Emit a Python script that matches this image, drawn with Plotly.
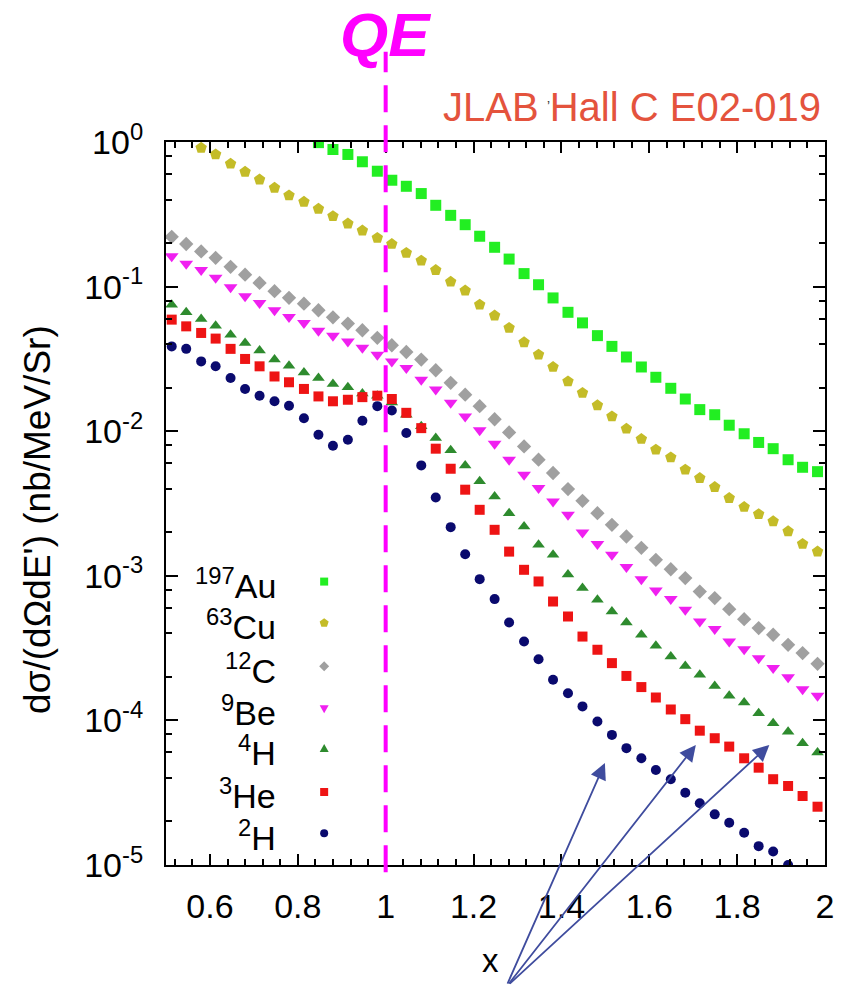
import plotly.graph_objects as go

# ---------------- data ----------------
X = [0.513, 0.546, 0.580, 0.613, 0.647, 0.680, 0.713, 0.747, 0.780, 0.814,
     0.847, 0.880, 0.914, 0.947, 0.981, 1.014, 1.047, 1.081, 1.114, 1.148,
     1.181, 1.214, 1.248, 1.281, 1.315, 1.348, 1.381, 1.415, 1.448, 1.482,
     1.515, 1.548, 1.582, 1.615, 1.649, 1.682, 1.715, 1.749, 1.782, 1.816,
     1.849, 1.882, 1.916, 1.949, 1.983]

y_au197 = [0.99, 0.887, 0.82, 0.73, 0.628, 0.544, 0.494, 0.44, 0.365, 0.311,
           0.268, 0.223, 0.187, 0.155, 0.123, 0.103, 0.0835, 0.0664, 0.0561, 0.0458,
           0.0386, 0.0326, 0.0278, 0.0236, 0.0198, 0.0167, 0.0141, 0.0130, 0.0110, 0.0096,
           0.00836, 0.00757, 0.00635, 0.00563, 0.00525]
y_cu63 = [0.912, 0.82, 0.707, 0.622, 0.55, 0.482, 0.427, 0.386, 0.345, 0.307,
          0.273, 0.244, 0.217, 0.197, 0.171, 0.151, 0.130, 0.108, 0.0938, 0.075,
          0.063, 0.0518, 0.0412, 0.0338, 0.0278, 0.0221, 0.0184, 0.0151, 0.01265, 0.0104,
          0.00883, 0.00745, 0.00659, 0.00542, 0.00474, 0.00411, 0.00345, 0.00299, 0.00267, 0.00238,
          0.00203, 0.00166, 0.00147]
y_c12 = [0.221, 0.197, 0.175, 0.158, 0.137, 0.121, 0.106, 0.0929, 0.0836, 0.0762,
         0.0686, 0.0613, 0.0555, 0.0499, 0.0442, 0.0393, 0.0353, 0.0313, 0.0264, 0.0216,
         0.0179, 0.0149, 0.0121, 0.00981, 0.00785, 0.00635, 0.00514, 0.00398, 0.0033, 0.00271,
         0.00225, 0.00187, 0.00156, 0.00129, 0.00111, 0.000964, 0.000778, 0.000701, 0.000588, 0.000501,
         0.000435, 0.000391, 0.000333, 0.000292, 0.000246]
y_be9 = [0.162, 0.144, 0.130, 0.115, 0.0989, 0.0857, 0.0771, 0.0686, 0.0617, 0.0561,
         0.0496, 0.0458, 0.0418, 0.0377, 0.0338, 0.0304, 0.0274, 0.0227, 0.0194, 0.0157,
         0.01265, 0.01014, 0.00819, 0.00635, 0.0050, 0.00404, 0.00327, 0.00264, 0.00199, 0.00166,
         0.0014, 0.00115, 0.000948, 0.000791, 0.00069, 0.000582, 0.000483, 0.000428, 0.000351, 0.000311,
         0.000269, 0.00023, 0.000199, 0.000164, 0.000148]
y_h4 = [0.075, 0.0664, 0.0597, 0.0537, 0.0465, 0.0408, 0.0361, 0.0313, 0.0284, 0.0255,
        0.0233, 0.0212, 0.0201, 0.0182, 0.0176, 0.0158, 0.0130, 0.0108, 0.00897, 0.00737,
        0.0058, 0.0045, 0.00354, 0.00271, 0.00219, 0.00164, 0.0014, 0.00102, 0.000822, 0.000682,
        0.000566, 0.000475, 0.000391, 0.000328, 0.000277, 0.000238, 0.000207, 0.000173, 0.000148, 0.000133,
        0.000112, 0.0000957, 0.0000836, 0.0000695, 0.0000599]
y_he3 = [0.0591, 0.0531, 0.0478, 0.0437, 0.0371, 0.0316, 0.0281, 0.0239, 0.0218, 0.0196,
         0.0174, 0.0161, 0.0165, 0.0172, 0.0176, 0.0167, 0.0134, 0.0105, 0.00757, 0.0055,
         0.00394, 0.00286, 0.00208, 0.00147, 0.0011, 0.000914, 0.000664, 0.000523, 0.00038, 0.000308,
         0.000249, 0.000203, 0.00017, 0.000144, 0.000119, 0.000102, 0.0000849, 0.0000753, 0.0000659, 0.0000547,
         0.0000471, 0.0000392, 0.0000352, 0.00003, 0.0000253]
y_h2 = [0.0386, 0.0371, 0.0304, 0.0281, 0.0233, 0.0196, 0.0176, 0.0161, 0.015, 0.0123,
        0.00946, 0.00794, 0.00873, 0.0118, 0.0149, 0.0139, 0.00972, 0.0058, 0.00348, 0.00217,
        0.00141, 0.000948, 0.00069, 0.000475, 0.000351, 0.000265, 0.000191, 0.000154, 0.000125, 0.0000982,
        0.0000794, 0.0000643, 0.0000547, 0.0000454, 0.0000392, 0.0000316, 0.0000267, 0.0000224, 0.0000196, 0.0000167,
        0.0000135, 0.0000124, 0.00001]

series_labels = ["<sup>197</sup>Au", "<sup>63</sup>Cu", "<sup>12</sup>C", "<sup>9</sup>Be",
                 "<sup>4</sup>H", "<sup>3</sup>He", "<sup>2</sup>H"]
x_ticks = [0.6, 0.8, 1.0, 1.2, 1.4, 1.6, 1.8, 2.0]
x_ticktext = ["0.6", "0.8", "1", "1.2", "1.4", "1.6", "1.8", "2"]
y_ticks = [1e-5, 1e-4, 1e-3, 1e-2, 1e-1, 1e0]
y_ticktext = ["10<sup>-5</sup>", "10<sup>-4</sup>", "10<sup>-3</sup>", "10<sup>-2</sup>",
              "10<sup>-1</sup>", "10<sup>0</sup>"]
y_minor = [m * 10.0 ** e for e in range(-5, 0) for m in (2, 4, 6, 8)]
x_minor = [round(0.52 + 0.04 * k, 2) for k in range(38)]
qe_x = 1.0

# ---------------- styling ----------------
FONT = "Liberation Sans, Arial, Helvetica, sans-serif"
series = [
    (X[10:], y_au197, "#22EE22", "square", 11),
    (X[2:], y_cu63, "#C4BC28", "pentagon", 12),
    (X, y_c12, "#A0A0A0", "diamond", 11),
    (X, y_be9, "#F020F0", "triangle-down", 12),
    (X, y_h4, "#2E8B2E", "triangle-up", 11),
    (X, y_he3, "#EE1414", "square", 10),
    (X[:43], y_h2, "#0A0A6E", "circle", 10),
]

fig = go.Figure()
for (xs, ys, col, sym, sz), lab in zip(series, series_labels):
    fig.add_trace(go.Scatter(x=xs, y=ys, mode="markers", name=lab,
                             marker=dict(color=col, symbol=sym, size=sz, line=dict(width=0)),
                             showlegend=False))

axis_common = dict(showline=True, linecolor="black", linewidth=2, mirror="ticks",
                   ticks="inside", tickcolor="black", tickwidth=2, showgrid=False,
                   zeroline=False, tickfont=dict(family=FONT, size=34, color="black"))

fig.update_xaxes(range=[0.5, 2.0], tickmode="array", tickvals=x_ticks, ticktext=x_ticktext,
                 ticklen=11, ticklabelstandoff=10,
                 minor=dict(tickvals=x_minor, ticks="inside", ticklen=6, tickwidth=1.5,
                            tickcolor="black"),
                 **axis_common)
fig.update_yaxes(type="log", range=[-5, 0], tickmode="array", tickvals=y_ticks,
                 ticktext=y_ticktext, ticklen=12, ticklabelstandoff=14,
                 minor=dict(tickvals=y_minor, ticks="inside", ticklen=6, tickwidth=1.5,
                            tickcolor="black"),
                 **axis_common)

shapes = [dict(type="line", xref="x", yref="paper", x0=qe_x, x1=qe_x, y0=-0.01, y1=1.125,
               line=dict(color="#FF00FF", width=4, dash="27px,13px"), layer="above")]

# legend markers (drawn as pixel-sized shapes at the right of each label)
leg_rows = [0.392, 0.335, 0.275, 0.216, 0.161, 0.101, 0.044]
paths = {
    "diamond": "M0,5 L5,0 L0,-5 L-5,0 Z",
    "triangle-up": "M-4.5,-3.5 L4.5,-3.5 L0,4.5 Z",
    "triangle-down": "M-4.5,3.5 L4.5,3.5 L0,-4.5 Z",
    "pentagon": "M0,4.5 L4.5,1.2 L2.8,-4 L-2.8,-4 L-4.5,1.2 Z",
}
annotations = []
for (xs, ys, col, sym, sz), lab, ry in zip(series, series_labels, leg_rows):
    base = dict(xref="paper", yref="paper", xsizemode="pixel", ysizemode="pixel",
                xanchor=0.24, yanchor=ry, fillcolor=col, line=dict(width=0), layer="above")
    if sym in ("square", "circle"):
        shapes.append(dict(type="rect" if sym == "square" else "circle",
                           x0=-4, x1=4, y0=-4, y1=4, **base))
    else:
        shapes.append(dict(type="path", path=paths[sym], **base))
    annotations.append(dict(xref="paper", yref="paper", x=0.170, y=ry, xanchor="right",
                            yanchor="middle", text=lab, showarrow=False, yshift=-2,
                            font=dict(family=FONT, size=34, color="black")))

annotations += [
    dict(xref="x", yref="paper", x=qe_x, y=1.149, text="<b><i>QE</i></b>", showarrow=False,
         xanchor="center", yanchor="middle", font=dict(family=FONT, size=62, color="#FF00FF")),
    dict(xref="paper", yref="paper", x=0.997, y=1.048, text="JLAB Hall C E02-019",
         showarrow=False, xanchor="right", yanchor="middle",
         font=dict(family=FONT, size=40, color="#E4533D")),
    dict(xref="paper", yref="paper", x=0.580, y=1.062, text="ʼ", showarrow=False,
         font=dict(family=FONT, size=14, color="#333333")),
    dict(xref="paper", yref="paper", x=-0.195, y=0.478, text="dσ/(dΩdE') (nb/MeV/Sr)",
         textangle=-90, showarrow=False, xanchor="center", yanchor="middle",
         font=dict(family=FONT, size=37, color="black")),
    dict(xref="paper", yref="paper", x=0.4917, y=-0.132, text="x", showarrow=False,
         xanchor="center", yanchor="middle", font=dict(family=FONT, size=33, color="black")),
]
# three arrows converging below the x axis
for hx, hy, ax, ay in [(0.666, 0.141, -98, 222), (0.804, 0.166, -188, 240),
                       (0.9155, 0.166, -261, 240)]:
    annotations.append(dict(xref="paper", yref="paper", x=hx, y=hy, ax=ax, ay=ay, text="",
                            showarrow=True, arrowhead=2, arrowsize=1.8, arrowwidth=1.8,
                            arrowcolor="#3F4C9E"))

fig.update_layout(width=846, height=990, margin=dict(l=166, r=21, t=142, b=125),
                  paper_bgcolor="white", plot_bgcolor="white", shapes=shapes,
                  annotations=annotations, font=dict(family=FONT))

fig.write_html("out.html")
